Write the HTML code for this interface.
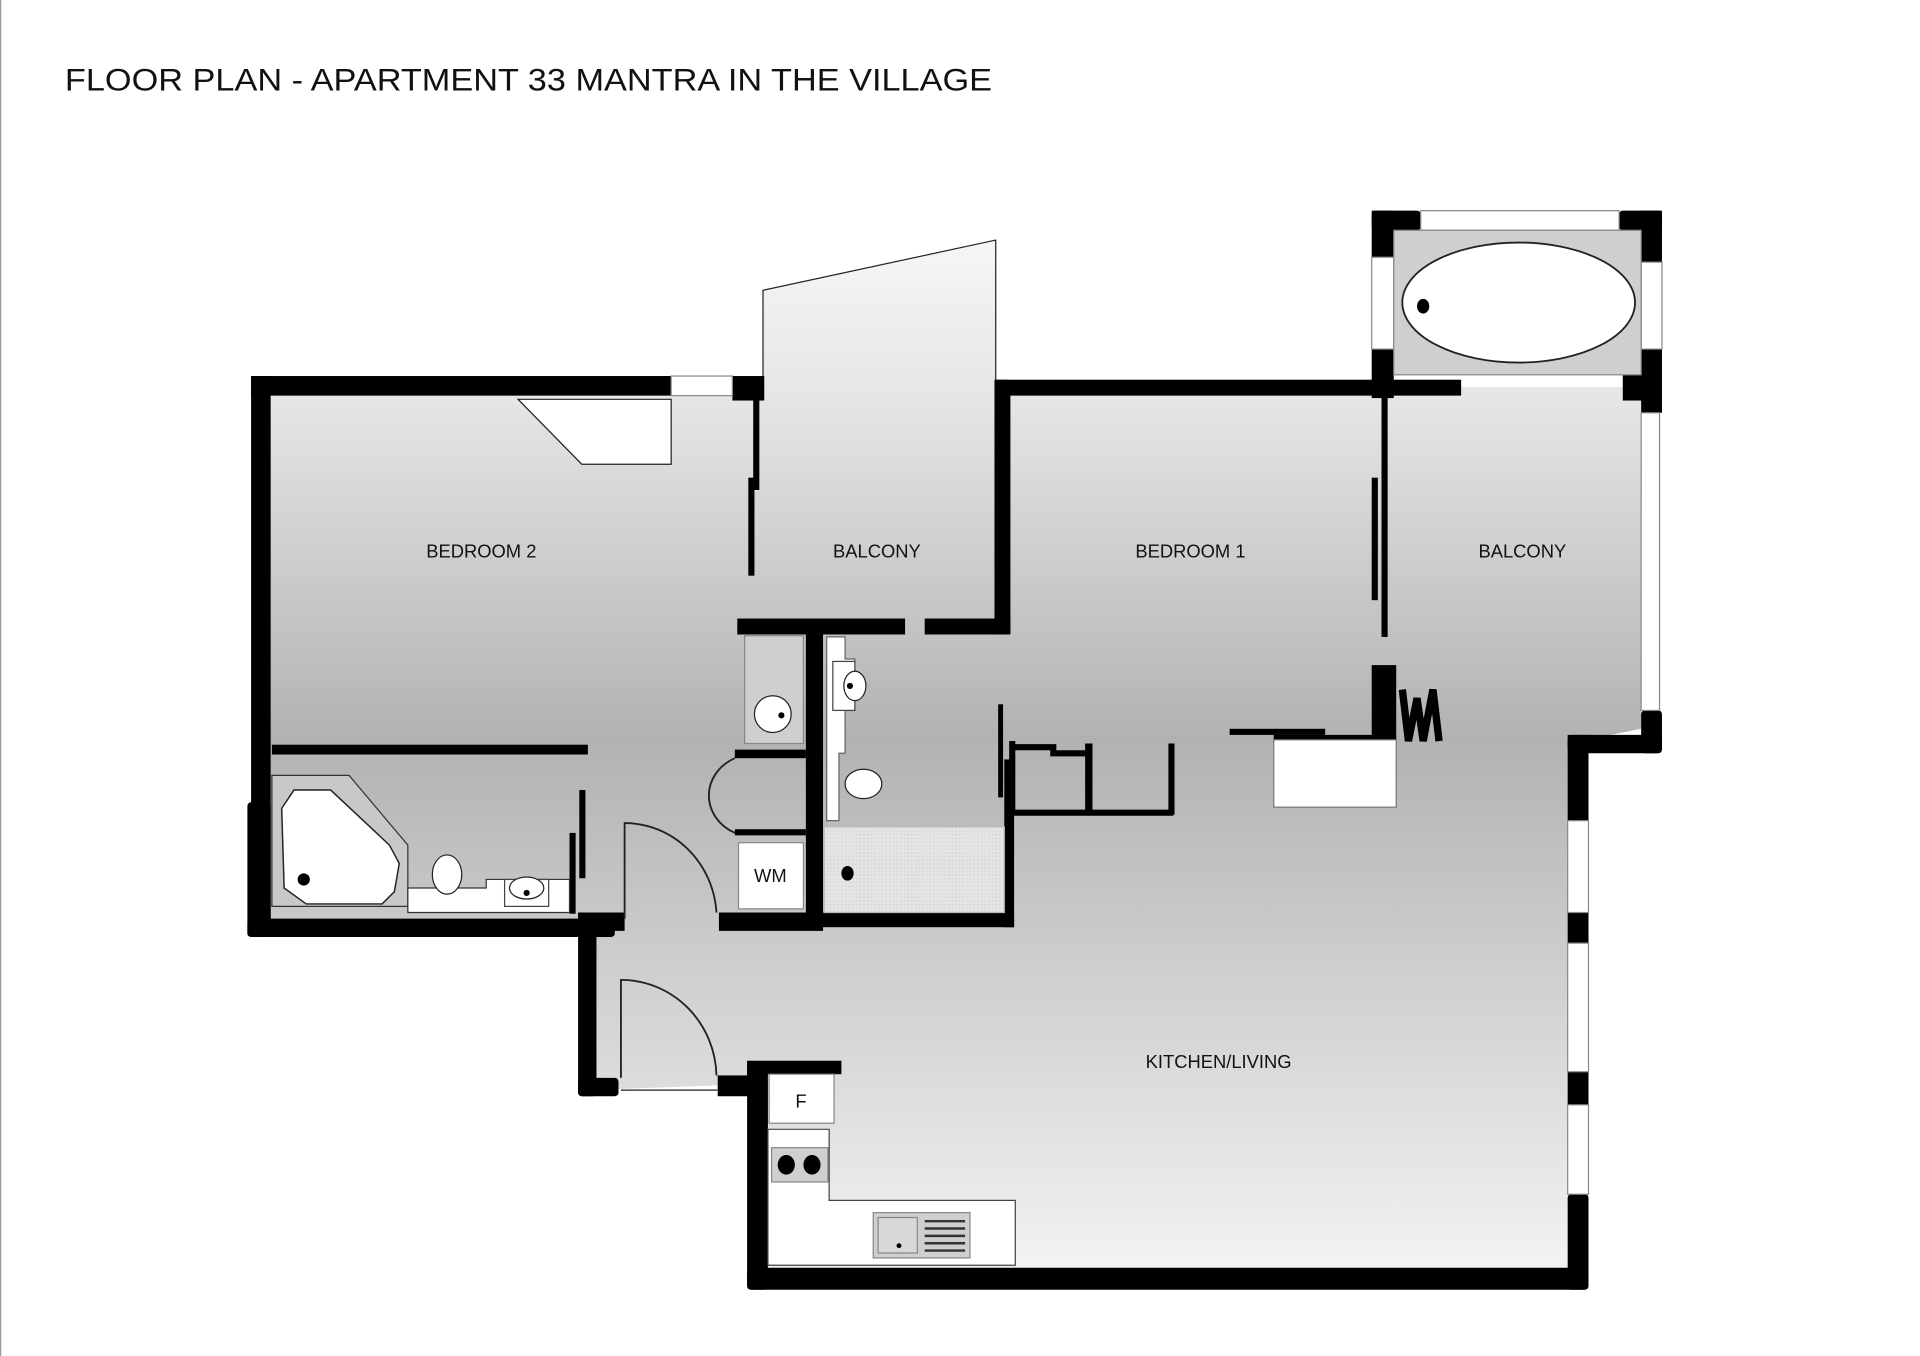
<!DOCTYPE html>
<html><head><meta charset="utf-8"><style>
html,body{margin:0;padding:0;background:#fff;width:1920px;height:1356px;overflow:hidden}
svg{display:block}
text{font-family:"Liberation Sans",sans-serif;fill:#111}
</style></head><body>
<svg width="1920" height="1356" viewBox="0 0 1552 1096" preserveAspectRatio="none">
<defs>
<linearGradient id="fl" gradientUnits="userSpaceOnUse" x1="0" y1="196" x2="0" y2="1045">
<stop offset="0" stop-color="#f6f6f6"/>
<stop offset="0.15" stop-color="#e6e6e6"/>
<stop offset="0.48" stop-color="#b2b2b2"/>
<stop offset="0.62" stop-color="#c4c4c4"/>
<stop offset="1" stop-color="#f4f4f4"/>
</linearGradient>
<pattern id="dots" width="3" height="3" patternUnits="userSpaceOnUse"><rect width="3" height="3" fill="#e4e4e4"/><rect width="1" height="1" fill="#cfcfcf"/></pattern>
</defs>
<line x1="0.5" y1="0" x2="0.5" y2="1096" stroke="#999" stroke-width="1"/>
<g transform="scale(0.99)">
<text x="53" y="74" font-size="26" textLength="757" lengthAdjust="spacingAndGlyphs">FLOOR PLAN - APARTMENT 33 MANTRA IN THE VILLAGE</text>

<polygon fill="url(#fl)" points="213,316 623,316 623,237 813,196 813,316 1340,316 1340,595 1290,605 1290,1045 620,1045 620,885 480,890 480,757 213,757"/>
<polyline fill="none" stroke="#222" stroke-width="1" points="623,316 623,237 813,196 813,316"/>

<g fill="#000">
<rect x="205" y="307" width="343" height="16"/>
<rect x="598" y="307" width="26" height="20"/>
<rect x="205" y="307" width="16" height="458"/>
<rect x="202" y="655" width="19" height="110" rx="3"/>
<rect x="202" y="750" width="300" height="15" rx="3"/>
<rect x="472" y="745" width="38" height="15"/>
<rect x="472" y="755" width="15" height="140" rx="3"/>
<rect x="472" y="880" width="33" height="15" rx="3"/>
<rect x="222" y="608" width="258" height="8"/>
<rect x="473" y="645" width="5" height="72"/>
<rect x="465" y="680" width="5" height="66"/>
<rect x="615" y="320" width="5" height="80"/>
<rect x="611" y="390" width="5" height="80"/>
<rect x="602" y="505" width="137" height="13"/>
<rect x="755" y="505" width="70" height="13"/>
<rect x="812" y="310" width="13" height="208" rx="3"/>
<rect x="812" y="310" width="381" height="13"/>
<rect x="1128" y="320" width="5" height="200"/>
<rect x="1120" y="390" width="5" height="100"/>
<rect x="658" y="518" width="14" height="240"/>
<rect x="600" y="612" width="58" height="7"/>
<rect x="600" y="677" width="58" height="5"/>
<rect x="587" y="745" width="85" height="15"/>
<rect x="672" y="745" width="156" height="12"/>
<rect x="820" y="620" width="8" height="137"/>
<rect x="815" y="575" width="4" height="76"/>
<rect x="1004" y="595" width="78" height="5"/>
<rect x="1040" y="600" width="82" height="5"/>
<rect x="1120" y="543" width="20" height="62"/>
<rect x="1120" y="172" width="40" height="16" rx="3"/>
<rect x="1120" y="172" width="18" height="38"/>
<rect x="1120" y="285" width="18" height="40"/>
<rect x="1322" y="172" width="35" height="16" rx="3"/>
<rect x="1340" y="172" width="17" height="42"/>
<rect x="1340" y="285" width="17" height="52"/>
<rect x="1325" y="305" width="20" height="22"/>
<rect x="1340" y="580" width="17" height="35" rx="3"/>
<rect x="1280" y="600" width="77" height="15" rx="4"/>
<rect x="1280" y="600" width="17" height="70"/>
<rect x="1280" y="745" width="17" height="25"/>
<rect x="1280" y="875" width="17" height="27"/>
<rect x="1280" y="975" width="17" height="78" rx="3"/>
<rect x="610" y="1035" width="687" height="18" rx="4"/>
<rect x="610" y="868" width="17" height="185" rx="3"/>
<rect x="610" y="866" width="77" height="11"/>
<rect x="586" y="878" width="26" height="17"/>
</g>
<polyline points="828,610 860,610 860,615 888,615" fill="none" stroke="#000" stroke-width="5"/>
<rect x="886" y="607" width="6" height="58" fill="#000"/>
<rect x="828" y="661" width="130" height="5" fill="#000"/>
<rect x="954" y="607" width="5" height="58" fill="#000"/>
<rect x="824" y="605" width="5" height="60" fill="#000"/>
<polyline points="1145,563 1150,605 1157,570 1162,605 1170,563 1175,605" fill="none" stroke="#000" stroke-width="6"/>
<rect x="1040" y="604" width="100" height="55" fill="#fff" stroke="#777" stroke-width="1"/>

<g fill="#fff" stroke="#888" stroke-width="1">
<rect x="548" y="307" width="50" height="16"/>
<rect x="1160" y="172" width="162" height="16"/>
<rect x="1120" y="210" width="18" height="75"/>
<rect x="1340" y="214" width="17" height="71"/>
<rect x="1340" y="337" width="15" height="243"/>
<rect x="1280" y="670" width="17" height="75"/>
<rect x="1280" y="770" width="17" height="105"/>
<rect x="1280" y="902" width="17" height="73"/>
</g>
<rect x="1138" y="188" width="202" height="118" fill="#cfcfcf" stroke="#888"/>
<ellipse cx="1240" cy="247" rx="95" ry="49" fill="#fff" stroke="#222" stroke-width="1.5"/>
<ellipse cx="1162" cy="250" rx="5" ry="6" fill="#000"/>

<polygon points="423,326 548,326 548,379 475,379" fill="#fff" stroke="#222" stroke-width="1"/>

<polygon points="222,633 285,633 333,690 333,740 222,740" fill="#c8c8c8" stroke="#333" stroke-width="1"/>
<polygon points="240,645 270,645 318,690 326,705 322,728 312,738 250,738 232,725 230,660" fill="#fff" stroke="#222" stroke-width="1.2"/>
<circle cx="248" cy="718" r="5" fill="#000"/>
<polygon points="333,725 397,725 397,718 465,718 465,745 333,745" fill="#fff" stroke="#333" stroke-width="1"/>
<ellipse cx="365" cy="714" rx="12" ry="16" fill="#fff" stroke="#222"/>
<rect x="412" y="718" width="36" height="22" fill="#fff" stroke="#444"/>
<ellipse cx="430" cy="725" rx="14" ry="9" fill="#fff" stroke="#222"/>
<circle cx="430" cy="729" r="2.5" fill="#000"/>

<rect x="608" y="519" width="48" height="88" fill="#cfcfcf" stroke="#888"/>
<circle cx="631" cy="583" r="15" fill="#fff" stroke="#222"/>
<circle cx="638" cy="584" r="2.5" fill="#000"/>
<path d="M600,619 A38,34 0 0 0 600,680" fill="none" stroke="#222" stroke-width="1.5"/>
<rect x="603" y="688" width="53" height="54" fill="#fff" stroke="#888"/>
<text x="629" y="720" font-size="15" text-anchor="middle">WM</text>

<polygon points="675,520 690,520 690,538 698,538 698,580 690,580 690,615 685,615 685,670 675,670" fill="#fff" stroke="#666"/>
<rect x="680" y="540" width="18" height="40" fill="#fff" stroke="#444"/>
<ellipse cx="698" cy="560" rx="9" ry="12" fill="#fff" stroke="#222"/>
<circle cx="694" cy="560" r="2.5" fill="#000"/>
<ellipse cx="705" cy="640" rx="15" ry="12" fill="#fff" stroke="#222"/>
<rect x="673" y="675" width="147" height="70" fill="url(#dots)" stroke="#bbb"/>
<ellipse cx="692" cy="713" rx="5" ry="6" fill="#000"/>

<path d="M510,750 L510,672 A75,78 0 0 1 585,745" fill="none" stroke="#222" stroke-width="1.5"/>
<path d="M507,880 L507,800 A78,80 0 0 1 585,878" fill="none" stroke="#222" stroke-width="1.5"/>
<line x1="507" y1="890" x2="586" y2="890" stroke="#222" stroke-width="1"/>

<rect x="628" y="877" width="53" height="40" fill="#fff" stroke="#888"/>
<text x="654" y="904" font-size="15" text-anchor="middle">F</text>
<polygon points="627,922 677,922 677,980 829,980 829,1033 627,1033" fill="#fff" stroke="#444"/>
<rect x="630" y="937" width="46" height="28" fill="#cfcfcf" stroke="#888"/>
<ellipse cx="642" cy="951" rx="7" ry="8" fill="#000"/>
<ellipse cx="663" cy="951" rx="7" ry="8" fill="#000"/>
<rect x="713" y="990" width="79" height="37" fill="#cfcfcf" stroke="#888"/>
<rect x="717" y="994" width="32" height="29" fill="#d8d8d8" stroke="#888"/>
<circle cx="734" cy="1017" r="2" fill="#000"/>
<g stroke="#333" stroke-width="2"><line x1="755" y1="997" x2="788" y2="997"/><line x1="755" y1="1003" x2="788" y2="1003"/><line x1="755" y1="1009" x2="788" y2="1009"/><line x1="755" y1="1015" x2="788" y2="1015"/><line x1="755" y1="1021" x2="788" y2="1021"/></g>

<g font-size="15">
<text x="393" y="455" text-anchor="middle">BEDROOM 2</text>
<text x="716" y="455" text-anchor="middle">BALCONY</text>
<text x="972" y="455" text-anchor="middle">BEDROOM 1</text>
<text x="1243" y="455" text-anchor="middle">BALCONY</text>
<text x="995" y="872" text-anchor="middle">KITCHEN/LIVING</text>
</g>
</g>
</svg>
</body></html>
